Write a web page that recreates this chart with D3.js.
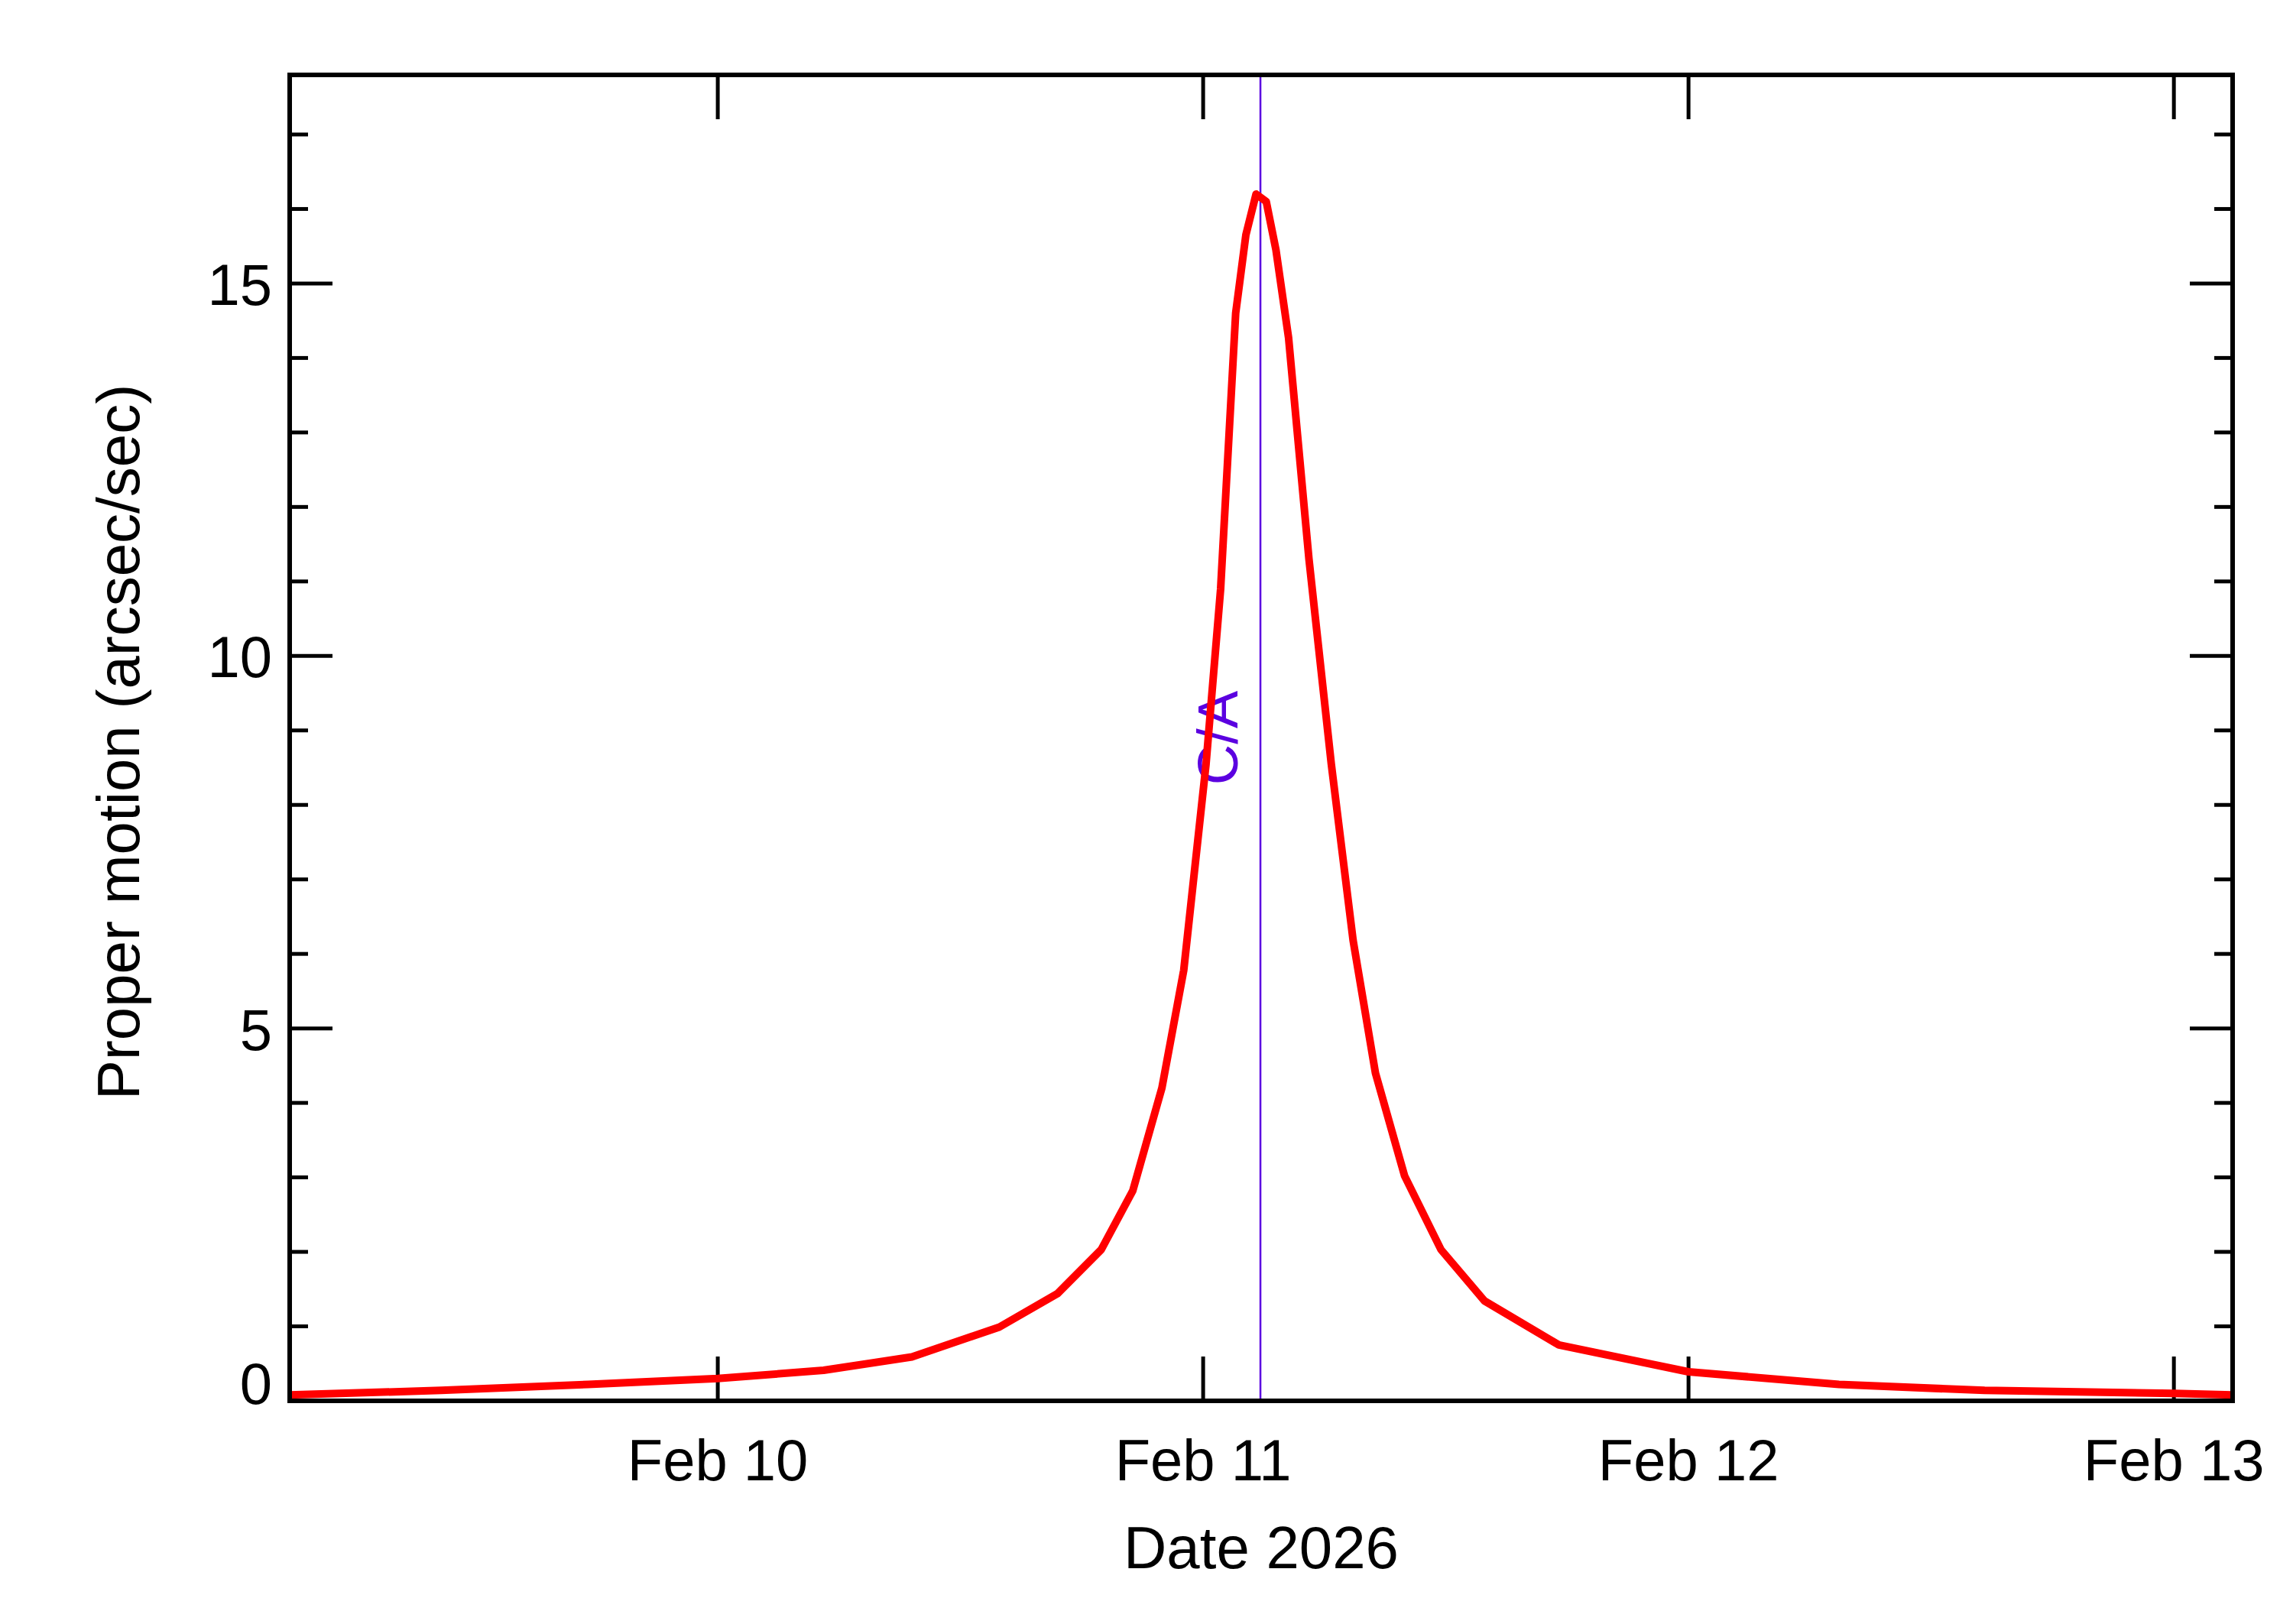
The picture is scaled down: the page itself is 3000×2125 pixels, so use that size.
<!DOCTYPE html>
<html><head><meta charset="utf-8">
<script src="https://cdn.jsdelivr.net/npm/d3@7"></script>
<style>body{margin:0;background:#fff}text{font-family:"Liberation Sans",Arial,sans-serif}</style>
</head><body>
<svg id="chart" width="3000" height="2125"></svg>
<script>
// days after 2026-02-10 00:00 UTC, proper motion in arcsec/sec
const days = [-0.882,-0.57,-0.267,0,0.218,0.4,0.58,0.70,0.79,0.855,0.915,0.96,1.006,1.036,1.067,1.088,1.109,1.13,1.15,1.176,1.218,1.264,1.309,1.355,1.415,1.49,1.58,1.733,2.0,2.31,2.61,3.0,3.12]
const motion = [0.08,0.14,0.22,0.3,0.41,0.59,0.99,1.44,2.03,2.82,4.2,5.78,8.55,10.9,14.6,15.65,16.2,16.1,15.45,14.27,11.3,8.55,6.18,4.4,3.02,2.03,1.34,0.75,0.39,0.22,0.14,0.1,0.08]
const caDay = 1.118
const dayTicks = ['Feb 10','Feb 11','Feb 12','Feb 13']

const base = Date.UTC(2026,1,10)
const toDate = d => new Date(base + d*86400000)
const m = {left:379, right:2921, top:98, bottom:1833}
const svg = d3.select('#chart')

const x = d3.scaleUtc().domain([toDate(-0.882), toDate(3.121)]).range([m.left, m.right])
const y = d3.scaleLinear().domain([0, 17.8]).range([m.bottom, m.top])
const purple = '#5b00e0'

// ticks
const ticks = svg.append('g').attr('stroke','#000').attr('stroke-width',5)
dayTicks.forEach((t,i) => {
  const px = x(toDate(i))
  ticks.append('line').attr('x1',px).attr('x2',px).attr('y1',m.bottom).attr('y2',m.bottom-58)
  ticks.append('line').attr('x1',px).attr('x2',px).attr('y1',m.top).attr('y2',m.top+58)
  svg.append('text').attr('x',px).attr('y',1937).attr('text-anchor','middle').attr('font-size',76).text(t)
})
d3.range(0,18).forEach(v => {
  const len = v%5==0 ? 56 : 24
  ticks.append('line').attr('x1',m.left).attr('x2',m.left+len).attr('y1',y(v)).attr('y2',y(v))
  ticks.append('line').attr('x1',m.right).attr('x2',m.right-len).attr('y1',y(v)).attr('y2',y(v))
  if (v%5==0) svg.append('text').attr('x',356).attr('y',y(v)+(v==0?4:28)).attr('text-anchor','end').attr('font-size',76).text(v)
})

// C/A
const cx = x(toDate(caDay))
svg.append('line').attr('x1',cx).attr('x2',cx).attr('y1',m.top).attr('y2',m.bottom).attr('stroke',purple).attr('stroke-width',2.5)
svg.append('text').attr('transform',`translate(${cx-30},${y(8.9)}) rotate(-90)`).attr('text-anchor','middle')
  .attr('font-size',74).attr('fill',purple).text('C/A')

// curve
const line = d3.line().x((d,i) => x(toDate(days[i]))).y(d => y(d))
svg.append('path').datum(motion).attr('d',line).attr('fill','none').attr('stroke','#ff0000').attr('stroke-width',10).attr('stroke-linejoin','round')

svg.append('rect').attr('x',m.left).attr('y',m.top).attr('width',m.right-m.left).attr('height',m.bottom-m.top)
  .attr('fill','none').attr('stroke','#000').attr('stroke-width',6)

svg.append('text').attr('x',(m.left+m.right)/2).attr('y',2052).attr('text-anchor','middle').attr('font-size',78).text('Date 2026')
svg.append('text').attr('transform','translate(182,971) rotate(-90)').attr('text-anchor','middle').attr('font-size',78).text('Proper motion (arcsec/sec)')
</script>
</body></html>
